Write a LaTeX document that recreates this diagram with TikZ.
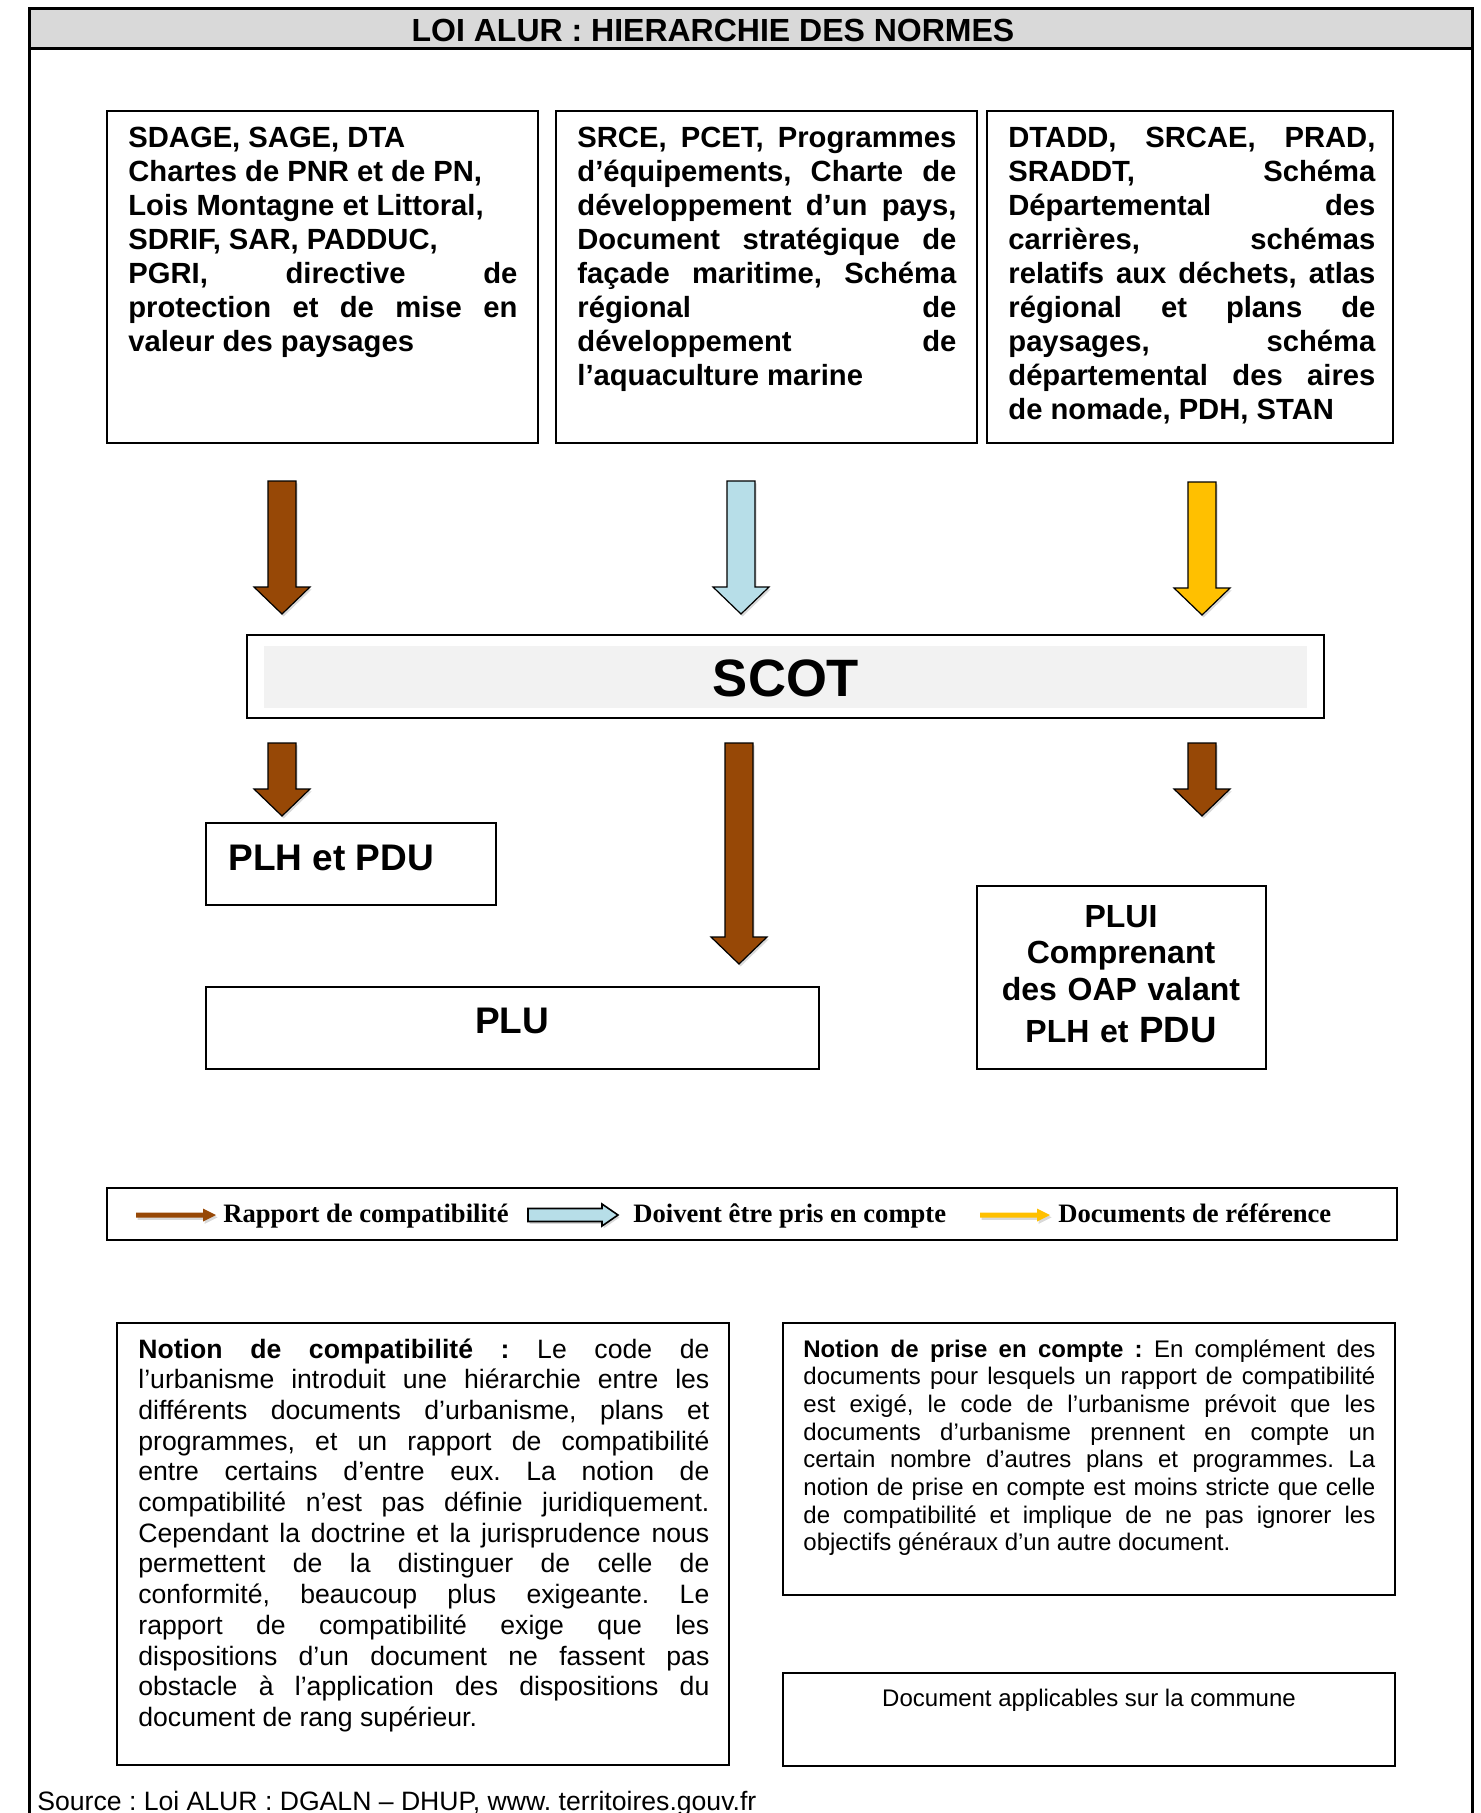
\documentclass[tikz,border=0pt]{standalone}
\usepackage{fontspec}
\setmainfont{Liberation Sans}
\newfontfamily\romainfont{Liberation Serif}
\usepackage{xcolor}
\usepackage{tikz}
\usetikzlibrary{calc}
\usetikzlibrary{fit}
\usetikzlibrary{shadows}

\definecolor{brun}{HTML}{974806}
\definecolor{bleuclair}{HTML}{B7DEE8}
\definecolor{jaune}{HTML}{FFC000}
\definecolor{grisbande}{HTML}{D9D9D9}
\definecolor{grisscot}{HTML}{F2F2F2}

\tolerance=10000
\hbadness=10000
\frenchspacing

\tikzset{
  cadre/.style={draw, line width=1.2pt, inner sep=0pt},
  titre/.style={font=\bfseries\fontsize{16}{19}\selectfont, anchor=base, inner sep=0pt},
  gras/.style={font=\bfseries\fontsize{14.6}{16.95}\selectfont, anchor=base west, inner sep=0pt, align=justify},
  moyen/.style={font=\bfseries\fontsize{18.5}{22}\selectfont, inner sep=0pt},
  legtexte/.style={font=\romainfont\bfseries\fontsize{13.3}{16}\selectfont, anchor=base west, inner sep=0pt},
  notice/.style={anchor=base west, inner sep=0pt, align=justify},
  ombre/.style={drop shadow={opacity=0.3, shadow xshift=0.8pt, shadow yshift=-1.2pt}},
}

% grande fleche verticale entre deux coordonnees : couleur, depart, pointe
\newcommand{\blocfleche}[3]{%
  \filldraw[fill=#1, draw=black, line width=0.6pt, ombre]
    ($(#2)+(-14,0)$) -- ($(#2)+(14,0)$) -- ($(#3)+(14,-27)$) -- ($(#3)+(28,-27)$)
    -- (#3) -- ($(#3)+(-28,-27)$) -- ($(#3)+(-14,-27)$) -- cycle;}

% petite fleche horizontale de la legende
\newcommand{\minifleche}[6]{%
  \path[#1] ($(#2)+(0,-#4)$) -- ($(#3)+(-#6,-#4)$) -- ($(#3)+(-#6,-#5)$) -- (#3)
    -- ($(#3)+(-#6,#5)$) -- ($(#3)+(-#6,#4)$) -- ($(#2)+(0,#4)$) -- cycle;}

\begin{document}
\begin{tikzpicture}[x=0.5pt,y=-0.5pt]
\useasboundingbox (0,0) rectangle (1481,1813);

% cadre general et titre
\fill[grisbande] (29,9) rectangle (1472,49);
\draw[line width=1.5pt] (29,1813) -- (29,9) -- (1472,9) -- (1472,1813);
\draw[line width=1.5pt] (29,49) -- (1472,49);
\node[titre] (titre) at (713,42) {LOI ALUR : HIERARCHIE DES NORMES};

% documents de rang superieur
\node[cadre, fit={(107,111) (538,443)}] (cadreA) {};
\node[cadre, fit={(556,111) (977,443)}] (cadreB) {};
\node[cadre, fit={(987,111) (1393,443)}] (cadreC) {};
\node[gras, text width=194.5pt] (texteA) at (128,148) {SDAGE, SAGE, DTA\\
Chartes de PNR et de PN,\\
Lois Montagne et Littoral,\\
SDRIF, SAR, PADDUC,\\
PGRI, directive de\linebreak protection et de mise en\linebreak valeur des paysages};
\node[gras, text width=189.5pt] (texteB) at (577,148) {SRCE, PCET, Programmes\linebreak
d’équipements, Charte de\linebreak développement d’un pays,\linebreak
Document stratégique de\linebreak façade maritime, Schéma\linebreak
régional de\linebreak développement de\linebreak l’aquaculture marine};
\node[gras, text width=183.5pt] (texteC) at (1008,148) {DTADD, SRCAE, PRAD,\linebreak
SRADDT, Schéma\linebreak Départemental des\linebreak carrières, schémas\linebreak
relatifs aux déchets, atlas\linebreak régional et plans de\linebreak paysages, schéma\linebreak
départemental des aires\linebreak de nomade, PDH, STAN};

% SCOT
\node[cadre, fit={(247,635) (1324,718)}] (scot) {};
\fill[grisscot] (264,646) rectangle (1307,708);
\node[font=\bfseries\fontsize{26.3}{30}\selectfont, anchor=base, inner sep=0pt] (scottexte) at (786,696) {SCOT};

% fleches vers le SCOT
\coordinate (dA) at (282,481);  \coordinate (aA) at (282,614);
\coordinate (dB) at (741,481);  \coordinate (aB) at (741,614);
\coordinate (dC) at (1202,482); \coordinate (aC) at (1202,615);
\blocfleche{brun}{dA}{aA}
\blocfleche{bleuclair}{dB}{aB}
\blocfleche{jaune}{dC}{aC}

% fleches sous le SCOT
\coordinate (dD) at (282,743);  \coordinate (aD) at (282,816);
\coordinate (dE) at (739,743);  \coordinate (aE) at (739,964);
\coordinate (dF) at (1202,743); \coordinate (aF) at (1202,816);
\blocfleche{brun}{dD}{aD}
\blocfleche{brun}{dE}{aE}
\blocfleche{brun}{dF}{aF}

% documents d'urbanisme
\node[cadre, fit={(206,823) (496,905)}] (plh) {};
\node[moyen, anchor=base west] (plhtexte) at (228,870) {PLH et PDU};
\node[cadre, fit={(206,987) (819,1069)}] (plu) {};
\node[moyen, anchor=base] (plutexte) at (512,1033) {PLU};
\node[cadre, fit={(977,886) (1266,1069)}] (plui) {};
\node[font=\bfseries\fontsize{16}{18.3}\selectfont, align=center, text width=140pt, anchor=base, inner sep=0pt]
  (pluitexte) at (1121,927) {PLUI\\Comprenant\\des OAP valant\\[3pt]PLH et {\fontsize{18.3}{20}\selectfont PDU}};

% legende
\node[cadre, fit={(107,1188) (1397,1240)}] (legende) {};
\coordinate (lA) at (136,1215); \coordinate (lB) at (216,1215);
\coordinate (lC) at (528,1215); \coordinate (lD) at (618,1215);
\coordinate (lE) at (980,1215); \coordinate (lF) at (1050,1215);
\minifleche{fill=brun, ombre}{lA}{lB}{2.5}{6.5}{13}
\minifleche{fill=bleuclair, draw=black, line width=0.8pt, ombre}{lC}{lD}{6.5}{11}{16}
\minifleche{fill=jaune, ombre}{lE}{lF}{2.5}{6.5}{13}
\node[legtexte] (legA) at (223,1222) {Rapport de compatibilité};
\node[legtexte] (legB) at (633,1222) {Doivent être pris en compte};
\node[legtexte] (legC) at (1058,1222) {Documents de référence};

% notions
\node[cadre, fit={(117,1323) (729,1765)}] (compat) {};
\node[notice, text width=285.5pt, font=\fontsize{13.3}{15.35}\selectfont] (compattexte) at (138,1358)
{\textbf{Notion de compatibilité~:} Le code de\linebreak
l’urbanisme introduit une hiérarchie entre les\linebreak
différents documents d’urbanisme, plans et\linebreak
programmes, et un rapport de compatibilité\linebreak
entre certains d’entre eux. La notion de\linebreak
compatibilité n’est pas définie juridiquement.\linebreak
Cependant la doctrine et la jurisprudence nous\linebreak
permettent de la distinguer de celle de\linebreak
conformité, beaucoup plus exigeante. Le\linebreak
rapport de compatibilité exige que les\linebreak
dispositions d’un document ne fassent pas\linebreak
obstacle à l’application des dispositions du\linebreak
document de rang supérieur.};

\node[cadre, fit={(783,1323) (1395,1595)}] (prise) {};
\node[notice, text width=286pt, font=\fontsize{12}{13.85}\selectfont] (prisetexte) at (803,1357)
{\textbf{Notion de prise en compte~:} En complément des\linebreak
documents pour lesquels un rapport de compatibilité\linebreak
est exigé, le code de l’urbanisme prévoit que les\linebreak
documents d’urbanisme prennent en compte un\linebreak
certain nombre d’autres plans et programmes. La\linebreak
notion de prise en compte est moins stricte que celle\linebreak
de compatibilité et implique de ne pas ignorer les\linebreak
objectifs généraux d’un autre document.};

\node[cadre, fit={(783,1673) (1395,1766)}] (commune) {};
\node[font=\fontsize{12}{14}\selectfont, anchor=base, inner sep=0pt] (communetexte) at (1089,1706) {Document applicables sur la commune};

% source
\node[notice, font=\fontsize{13.3}{16}\selectfont] (source) at (37,1810) {Source : Loi ALUR : DGALN – DHUP, www. territoires.gouv.fr};
\end{tikzpicture}
\end{document}
